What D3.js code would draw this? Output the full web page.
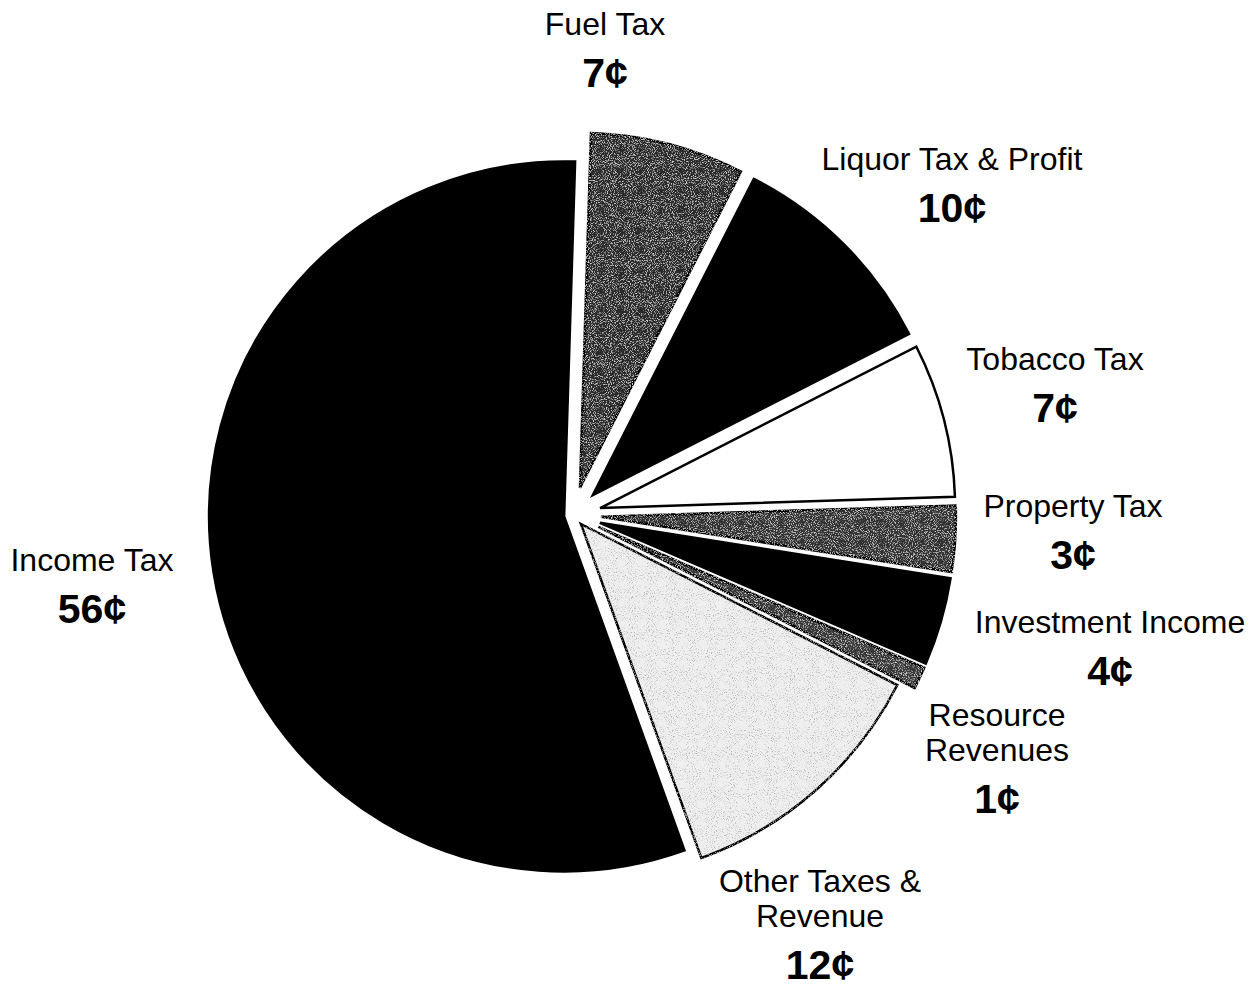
<!DOCTYPE html>
<html>
<head>
<meta charset="utf-8">
<script src="https://cdn.jsdelivr.net/npm/d3@7"></script>
<style>
  html, body { margin: 0; padding: 0; background: #fff; }
  svg { display: block; }
</style>
</head>
<body>
<div id="chart"></div>
<script>
// revenue per dollar, clockwise from the top
const categories = ["Fuel Tax", "Liquor Tax & Profit", "Tobacco Tax", "Property Tax",
    "Investment Income", "Resource Revenues", "Other Taxes & Revenue", "Income Tax"];
const values = [7, 10, 7, 3, 4, 1, 12, 56];
const valueLabels = ["7¢", "10¢", "7¢", "3¢", "4¢", "1¢", "12¢", "56¢"];

// how each name is broken into lines
const nameLines = [
    ["Fuel Tax"], ["Liquor Tax & Profit"], ["Tobacco Tax"], ["Property Tax"],
    ["Investment Income"], ["Resource", "Revenues"], ["Other Taxes &", "Revenue"], ["Income Tax"]
];

const width = 1259;
const height = 987;
const cx = 573, cy = 515;
const radius = 355;

// slice look: fill, grain, how far it is pulled out
const sliceStyle = [
    { fill: "#2c2c2c", grain: "grainDark", explode: 28 },
    { fill: "#000000", grain: null, explode: 28 },
    { fill: "#ffffff", grain: null, explode: 28 },
    { fill: "#333333", grain: "grainDark", explode: 28 },
    { fill: "#000000", grain: null, explode: 28 },
    { fill: "#383838", grain: "grainDark", explode: 28 },
    { fill: "#efefef", grain: "grainLight", explode: 12 },
    { fill: "#000000", grain: null, explode: 9 }
];

// label centre x and first baseline y
const labelPos = [
    [605, 35], [952, 170], [1055, 370], [1073, 517],
    [1110, 633], [997, 726], [820, 892], [92, 571]
];

const svg = d3.select("#chart").append("svg")
    .attr("width", width)
    .attr("height", height);

const defs = svg.append("defs");

function grainFilter(id, speckColor, alphaScale, alphaShift) {
    const f = defs.append("filter").attr("id", id)
        .attr("x", "-2%").attr("y", "-2%").attr("width", "104%").attr("height", "104%");
    f.append("feTurbulence")
        .attr("type", "fractalNoise")
        .attr("baseFrequency", 0.95)
        .attr("numOctaves", 2)
        .attr("seed", 7)
        .attr("result", "noise");
    const c = d3.color(speckColor);
    f.append("feColorMatrix")
        .attr("in", "noise")
        .attr("type", "matrix")
        .attr("values", `0 0 0 0 ${c.r / 255} 0 0 0 0 ${c.g / 255} 0 0 0 0 ${c.b / 255} ${alphaScale} 0 0 0 ${alphaShift}`)
        .attr("result", "specks");
    f.append("feComposite")
        .attr("in", "specks").attr("in2", "SourceGraphic")
        .attr("operator", "in").attr("result", "clipped");
    const m = f.append("feMerge");
    m.append("feMergeNode").attr("in", "SourceGraphic");
    m.append("feMergeNode").attr("in", "clipped");
}
grainFilter("grainDark", "#a0a0a0", 4, -2.05);
grainFilter("grainLight", "#777777", 4, -2.15);

const startAngle = 0.031;
const pie = d3.pie()
    .sort(null)
    .value(d => d)
    .startAngle(startAngle)
    .endAngle(startAngle + Math.PI * 2);

const arc = d3.arc().innerRadius(0).outerRadius(radius);

const slices = pie(values);

const g = svg.append("g").attr("transform", `translate(${cx},${cy})`);

g.selectAll("path.slice")
    .data(slices)
    .enter()
    .append("path")
    .attr("class", "slice")
    .attr("transform", (d, i) => {
        const mid = (d.startAngle + d.endAngle) / 2;
        const e = sliceStyle[i].explode;
        return `translate(${e * Math.sin(mid)},${-e * Math.cos(mid)})`;
    })
    .attr("d", arc)
    .attr("fill", (d, i) => sliceStyle[i].fill)
    .attr("filter", (d, i) => sliceStyle[i].grain ? `url(#${sliceStyle[i].grain})` : null)
    .attr("stroke", "#000")
    .attr("stroke-width", 2.5)
    .attr("stroke-linejoin", "miter");

const lineGap = 35;
const valueGap = 52;

categories.forEach((name, i) => {
    const [x, y] = labelPos[i];
    const lines = nameLines[i];
    const t = svg.append("g").attr("class", "label");
    lines.forEach((ln, k) => {
        t.append("text")
            .attr("x", x)
            .attr("y", y + k * lineGap)
            .attr("text-anchor", "middle")
            .style("font-family", "'Liberation Sans', Arial, sans-serif")
            .style("font-size", "32px")
            .style("fill", "#000")
            .text(ln);
    });
    t.append("text")
        .attr("x", x)
        .attr("y", y + (lines.length - 1) * lineGap + valueGap)
        .attr("text-anchor", "middle")
        .style("font-family", "'Liberation Sans', Arial, sans-serif")
        .style("font-size", "41px")
        .style("font-weight", "bold")
        .style("fill", "#000")
        .text(valueLabels[i]);
});
</script>
</body>
</html>
